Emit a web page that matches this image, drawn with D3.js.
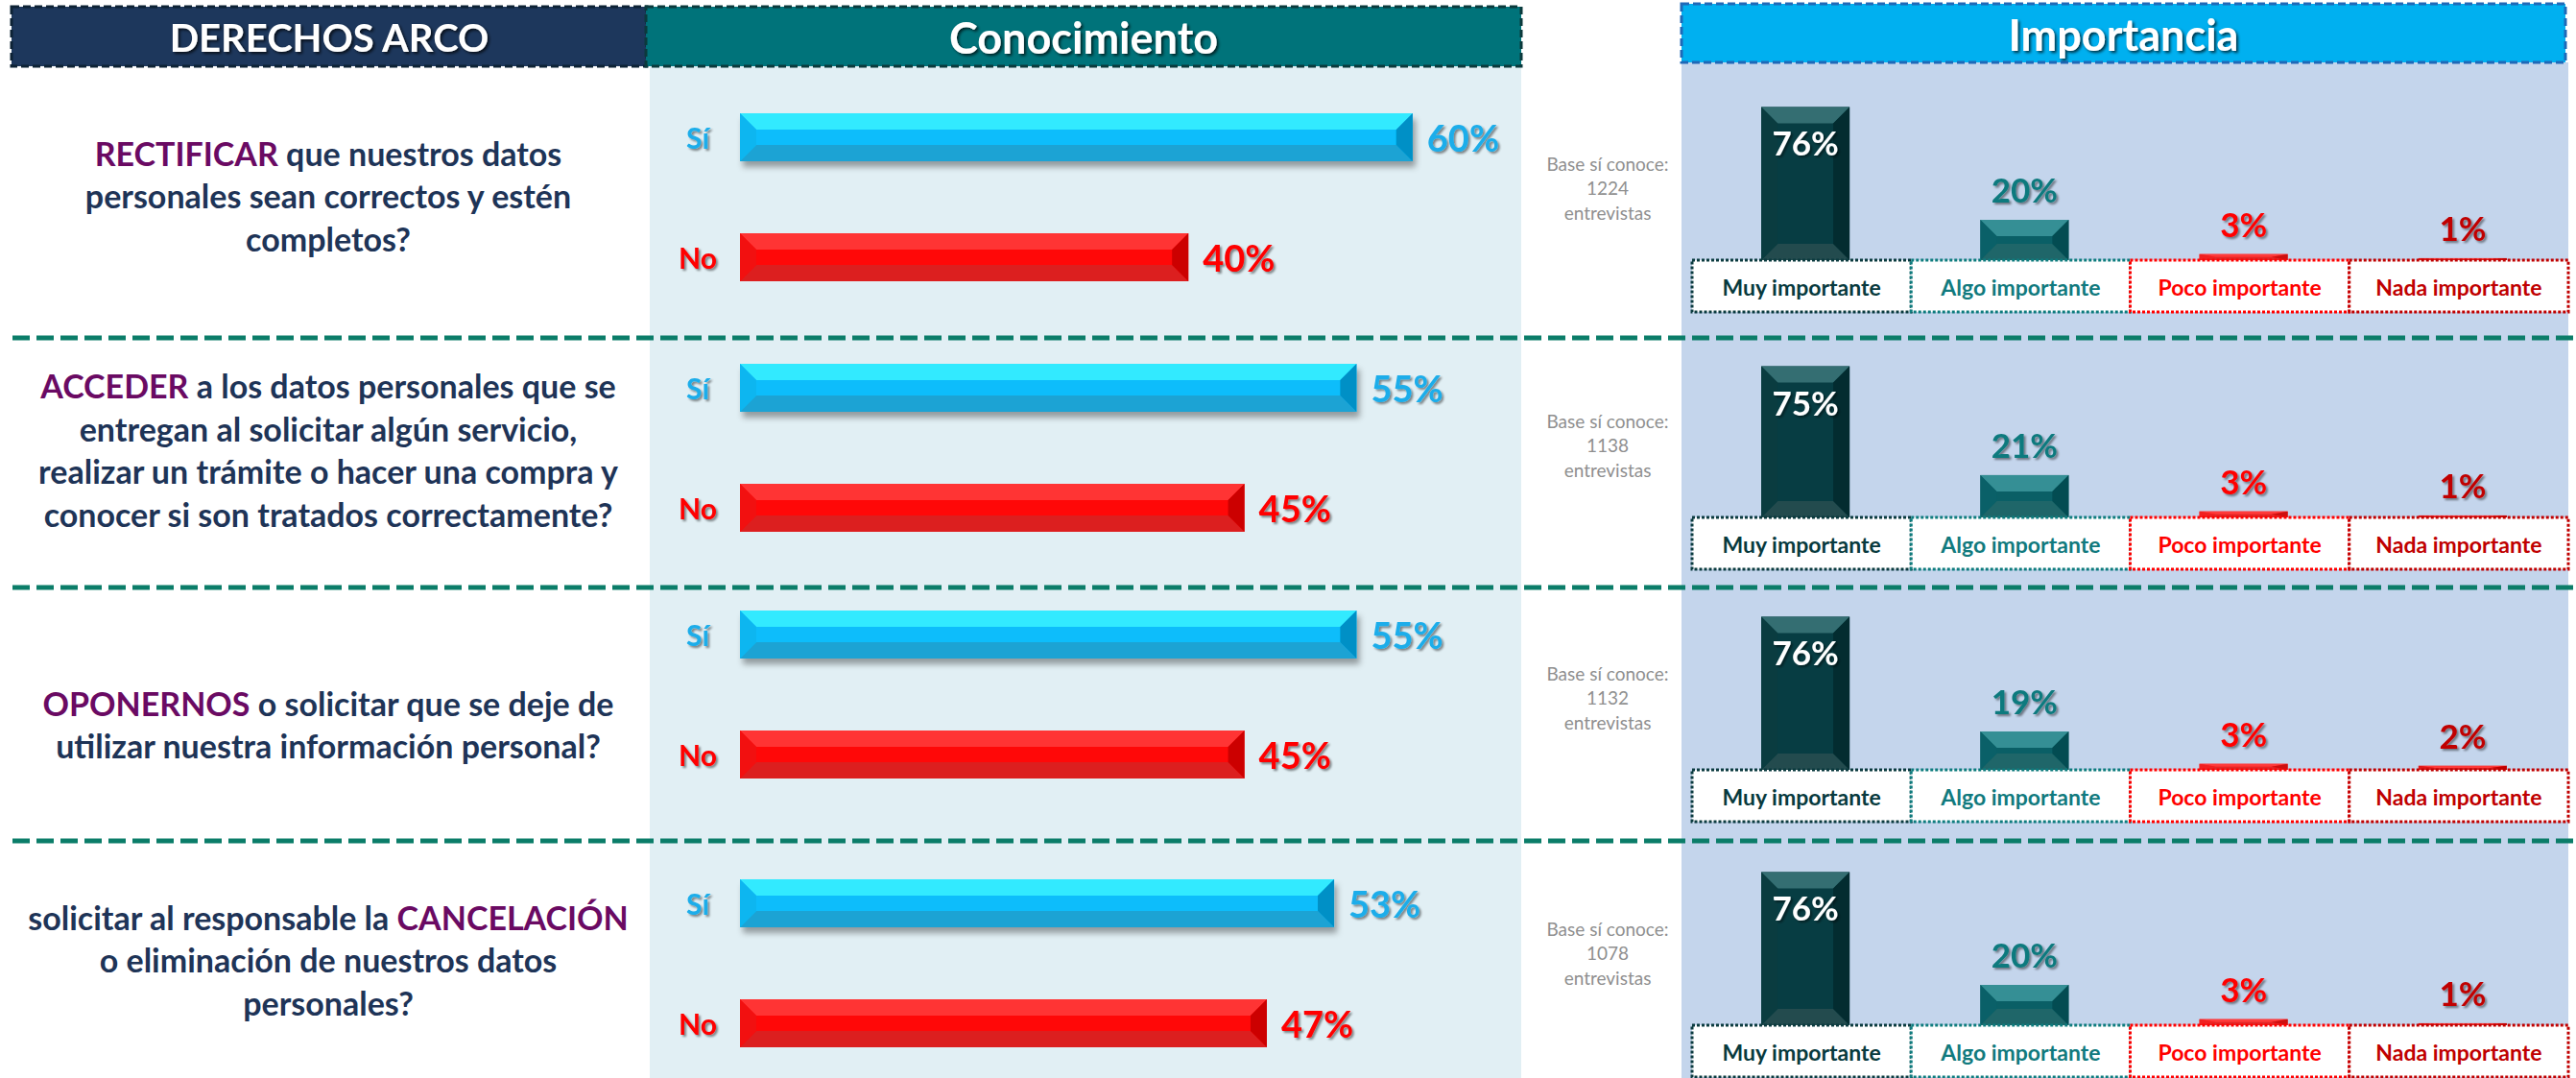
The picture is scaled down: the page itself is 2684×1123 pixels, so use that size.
<!DOCTYPE html>
<html>
<head>
<meta charset="utf-8">
<script src="https://cdn.jsdelivr.net/npm/d3@7"></script>
<style>
  html, body { margin: 0; padding: 0; background: #ffffff; }
  svg { display: block; font-family: Lato, "Open Sans", sans-serif; }
</style>
</head>
<body>
<svg id="chart" width="2684" height="1123"></svg>
<script>
// ---------------- DATA ----------------
const headers = ["DERECHOS ARCO", "Conocimiento", "Importancia"];
const questionIds = ["RECTIFICAR", "ACCEDER", "OPONERNOS", "CANCELACIÓN"];
// each question: lines made of [text, highlighted]
const questionLines = [
  [[["RECTIFICAR", true], [" que nuestros datos", false]],
   [["personales sean correctos y estén", false]],
   [["completos?", false]]],
  [[["ACCEDER", true], [" a los datos personales que se", false]],
   [["entregan al solicitar algún servicio,", false]],
   [["realizar un trámite o hacer una compra y", false]],
   [["conocer si son tratados correctamente?", false]]],
  [[["OPONERNOS", true], [" o solicitar que se deje de", false]],
   [["utilizar nuestra información personal?", false]]],
  [[["solicitar al responsable la ", false], ["CANCELACIÓN", true]],
   [["o eliminación de nuestros datos", false]],
   [["personales?", false]]]
];
const knowCategories = ["Sí", "No"];
const siValues = [60, 55, 55, 53];
const noValues = [40, 45, 45, 47];
const importanceCategories = ["Muy importante", "Algo importante", "Poco importante", "Nada importante"];
const muyValues = [76, 75, 76, 76];
const algoValues = [20, 21, 19, 20];
const pocoValues = [3, 3, 3, 3];
const nadaValues = [1, 1, 2, 1];
const baseCounts = [1224, 1138, 1132, 1078];
const baseLabelLines = ["Base sí conoce:", "{n}", "entrevistas"];

// ---------------- LAYOUT ----------------
const W = 2684, H = 1123;
const rowTextCenter = [203, 468, 754, 999];
const rowSiCenter = [143, 404, 661, 941];
const noOffset = 125;
const rowImpBase = [271, 539, 802, 1068];
const separatorY = [352, 612, 876];

const svg = d3.select("#chart");
const defs = svg.append("defs");
function shadow(id, dx, dy, sd, op, color) {
  const f = defs.append("filter").attr("id", id)
    .attr("x", "-20%").attr("y", "-40%").attr("width", "150%").attr("height", "200%");
  f.append("feDropShadow").attr("dx", dx).attr("dy", dy).attr("stdDeviation", sd)
    .attr("flood-color", color).attr("flood-opacity", op);
}
shadow("txtShadow", 2, 2, 1.2, 0.45, "#000");
shadow("hdrShadow", 2, 2, 1.5, 0.7, "#000");
shadow("barShadow", 3, 6, 3, 0.35, "#000");

// panels backgrounds
svg.append("rect").attr("x", 677).attr("y", 69).attr("width", 1585 - 677).attr("height", H - 69).attr("fill", "#e1eff4");
svg.append("rect").attr("x", 1752).attr("y", 65).attr("width", 2676 - 1752).attr("height", H - 65).attr("fill", "#c4d5ec");

// headers
const headerBoxes = [
  {x0: 12, x1: 674, y0: 7, y1: 69, fill: "#1d375c", stroke: "#0d2235", fs: 40},
  {x0: 673, x1: 1585, y0: 7, y1: 69, fill: "#00737a", stroke: "#0b3a3c", fs: 45},
  {x0: 1752, x1: 2673, y0: 4, y1: 65, fill: "#00b0f0", stroke: "#1f69b8", fs: 45}
];
headers.forEach((h, i) => {
  const b = headerBoxes[i];
  svg.append("rect").attr("x", b.x0).attr("y", b.y0).attr("width", b.x1 - b.x0).attr("height", b.y1 - b.y0)
    .attr("fill", b.fill).attr("stroke", b.stroke).attr("stroke-width", 3).attr("stroke-dasharray", "8,4");
  svg.append("text").attr("x", (b.x0 + b.x1) / 2).attr("y", (b.y0 + b.y1) / 2 + 1)
    .attr("text-anchor", "middle").attr("dominant-baseline", "central")
    .attr("font-size", b.fs).attr("font-weight", 700).attr("fill", "#ffffff")
    .attr("filter", "url(#hdrShadow)").text(h);
});

// questions text
questionLines.forEach((lines, r) => {
  const lh = 44.5;
  const start = rowTextCenter[r] - (lines.length - 1) * lh / 2;
  lines.forEach((segs, li) => {
    const t = svg.append("text").attr("x", 342).attr("y", start + li * lh)
      .attr("text-anchor", "middle").attr("dominant-baseline", "central")
      .attr("font-size", 34).attr("font-weight", 700);
    segs.forEach(([s, hl]) => {
      t.append("tspan").attr("fill", hl ? "#6a0a63" : "#1e3457").text(s);
    });
  });
});

// bevel bar helper
function bevelBar(g, x0, x1, y0, y1, b, c, filter) {
  const bw = Math.min(b, (x1 - x0) / 2), bh = Math.min(b, (y1 - y0) / 2);
  const gg = g.append("g");
  if (filter) gg.attr("filter", filter);
  const P = pts => pts.map(p => p.join(",")).join(" ");
  gg.append("rect").attr("x", x0).attr("y", y0).attr("width", x1 - x0).attr("height", y1 - y0).attr("fill", c.center);
  gg.append("polygon").attr("points", P([[x0, y0], [x1, y0], [x1 - bw, y0 + bh], [x0 + bw, y0 + bh]])).attr("fill", c.top);
  gg.append("polygon").attr("points", P([[x0, y1], [x1, y1], [x1 - bw, y1 - bh], [x0 + bw, y1 - bh]])).attr("fill", c.bottom);
  gg.append("polygon").attr("points", P([[x0, y0], [x0 + bw, y0 + bh], [x0 + bw, y1 - bh], [x0, y1]])).attr("fill", c.left);
  gg.append("polygon").attr("points", P([[x1, y0], [x1 - bw, y0 + bh], [x1 - bw, y1 - bh], [x1, y1]])).attr("fill", c.right);
}

// ---------------- CONOCIMIENTO ----------------
const xKnow = d3.scaleLinear().domain([0, 100]).range([771, 771 + 1168]);
const yRow = d3.scaleOrdinal().domain(questionIds).range(rowSiCenter);
const knowColors = {
  "Sí": {top: "#33eaff", center: "#07bdfb", bottom: "#1ea3d4", left: "#0bb6f0", right: "#0290c6", label: "#1badea"},
  "No": {top: "#ff3434", center: "#ff0808", bottom: "#dc1f1f", left: "#f21010", right: "#cc0000", label: "#ff0000"}
};
const barH = 50;
const gKnow = svg.append("g");
questionIds.forEach((q, r) => {
  [[knowCategories[0], siValues[r], 0], [knowCategories[1], noValues[r], noOffset]].forEach(([cat, v, off]) => {
    const cy = yRow(q) + off;
    const col = knowColors[cat];
    bevelBar(gKnow, xKnow(0), xKnow(v), cy - barH / 2, cy + barH / 2, 17, col, cat === "Sí" ? "url(#barShadow)" : null);
    gKnow.append("text").attr("x", 727).attr("y", cy).attr("text-anchor", "middle").attr("dominant-baseline", "central")
      .attr("font-size", 30).attr("font-weight", 700).attr("fill", col.label).attr("filter", "url(#txtShadow)").text(cat);
    gKnow.append("text").attr("x", xKnow(v) + 15).attr("y", cy).attr("dominant-baseline", "central")
      .attr("font-size", 38).attr("font-weight", 700).attr("fill", col.label).attr("filter", "url(#txtShadow)").text(v + "%");
  });
});

// ---------------- IMPORTANCIA ----------------
const xImp = d3.scaleBand().domain(importanceCategories).range([1763, 2676]).padding(0);
const hImp = d3.scaleLinear().domain([0, 100]).range([0, 210]);
const yBase = d3.scaleOrdinal().domain(questionIds).range(rowImpBase);
const impStyle = {
  "Muy importante": {bar: {top: "#346e72", center: "#073d43", bottom: "#234b4e", left: "#0a3c40", right: "#032c30"}, label: "#083a3e", box: "#0b3b3f"},
  "Algo importante": {bar: {top: "#358f95", center: "#0a5f66", bottom: "#1f6669", left: "#0a6068", right: "#034c52"}, label: "#117a7e", box: "#0e7c7e"},
  "Poco importante": {bar: {top: "#ff3a3a", center: "#ff2020", bottom: "#e02828", left: "#f02020", right: "#cc1010"}, label: "#ff0000", box: "#ff0000"},
  "Nada importante": {bar: {top: "#ff3a3a", center: "#f02020", bottom: "#d82020", left: "#e01818", right: "#c00000"}, label: "#c00000", box: "#c00000"}
};
const impSeries = [muyValues, algoValues, pocoValues, nadaValues];
const gImp = svg.append("g");
const barW = 92;
questionIds.forEach((q, r) => {
  const base = yBase(q);
  // base text
  baseLabelLines.forEach((l, li) => {
    gImp.append("text").attr("x", 1675).attr("y", base - 101 + li * 25.5)
      .attr("text-anchor", "middle").attr("dominant-baseline", "central")
      .attr("font-size", 19).attr("fill", "#8f8f8f").text(l.replace("{n}", baseCounts[r]));
  });
  importanceCategories.forEach((cat, ci) => {
    const v = impSeries[ci][r];
    const st = impStyle[cat];
    const cx = xImp(cat) + xImp.bandwidth() / 2 + 4;
    const top = base - hImp(v);
    bevelBar(gImp, cx - barW / 2, cx + barW / 2, top, base, 17, st.bar, null);
    const inside = hImp(v) > 80;
    gImp.append("text").attr("x", cx).attr("y", inside ? top + 37 : top - 32)
      .attr("text-anchor", "middle").attr("dominant-baseline", "central")
      .attr("font-size", 35).attr("font-weight", 700)
      .attr("fill", inside ? "#ffffff" : st.label).attr("filter", "url(#txtShadow)").text(v + "%");
  });
  importanceCategories.forEach(cat => {
    const st = impStyle[cat];
    gImp.append("rect").attr("x", xImp(cat)).attr("y", base).attr("width", xImp.bandwidth()).attr("height", 54)
      .attr("fill", "#ffffff").attr("stroke", st.box).attr("stroke-width", 3).attr("stroke-dasharray", "3,2");
    gImp.append("text").attr("x", xImp(cat) + xImp.bandwidth() / 2).attr("y", base + 28)
      .attr("text-anchor", "middle").attr("dominant-baseline", "central")
      .attr("font-size", 23).attr("font-weight", 700).attr("fill", st.label).text(cat);
  });
});

// separators
separatorY.forEach(y => {
  svg.append("line").attr("x1", 13).attr("x2", W).attr("y1", y).attr("y2", y)
    .attr("stroke", "#0b7d69").attr("stroke-width", 5).attr("stroke-dasharray", "18,7");
});
</script>
</body>
</html>
